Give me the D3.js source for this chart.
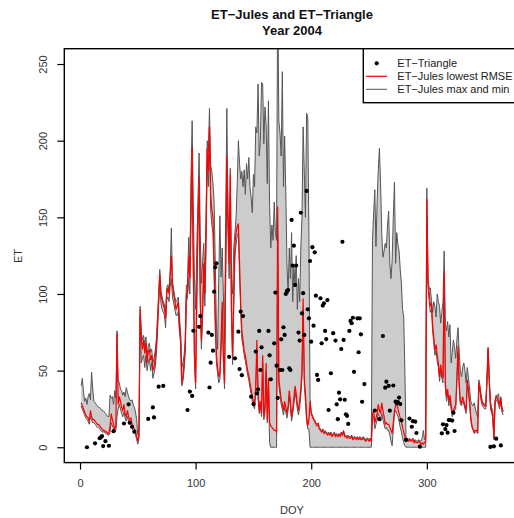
<!DOCTYPE html>
<html lang="en">
<head>
<meta charset="utf-8">
<title>ET-Jules and ET-Triangle 2004</title>
<script src="https://d3js.org/d3.v7.min.js"></script>
<style>
  body { margin: 0; background: #fff; }
  svg text { font-family: "Liberation Sans", Arial, Helvetica, sans-serif; }
</style>
</head>
<body>
<div id="chart"></div>
<script>
// ET-Jules lowest RMSE, DOY 1..366
var etBest = [
  29,27,25,23,21,20,19,17,24,20,  18,18,17,16,15,15,14,13,12,11,
  11,10,10,9,9,14,22,18,15,12,    14,74,28,33,30,26,24,28,22,20,
  24,20,18,19,15,13,12,10,7,4,    8,90,72,64,70,61,68,55,62,64,
  57,60,50,52,58,66,80,96,113,100, 96,93,91,84,100,104,100,112,125,105,
  100,96,90,92,95,80,72,42,46,55, 66,100,102,125,110,160,196,120,60,42,
  100,150,176,100,70,90,120,100,140,195, 180,209,165,155,150,120,85,60,52,46,
  48,70,95,60,42,120,190,150,120,178, 90,59,100,133,140,144,146,120,94,76,
  70,63,60,55,50,47,42,38,33,30,  27,40,70,35,24,30,22,60,20,26,
  55,18,45,16,14,13,12,11,11,10,  157,44,38,31,28,24,30,26,22,27,
  37,30,20,25,32,40,35,28,24,30,  38,50,97,45,35,20,14,18,30,22,
  20,18,17,15,14,15,12,11,10,11,  9,10,9,8,9,8,9,7,8,9,
  7,8,7,8,7,9,8,10,7,7,           6,7,6,6,7,5,6,6,5,6,
  5,6,5,5,6,5,4,5,5,4,            5,4,22,24,16,19,22,28,24,22,
  29,24,20,15,16,15,15,13,11,9,   16,24,27,29,25,22,19,17,13,10,
  7,4,5,4,5,4,4,5,3,4,            3,3,4,3,2,3,2,3,4,162,
  108,101,92,94,80,72,63,67,60,55, 46,54,48,45,115,42,33,38,30,34,
  28,22,24,26,28,45,66,42,30,29,  33,30,27,24,44,37,30,20,14,12,
  10,11,11,10,42,38,32,29,28,27,  27,44,65,44,28,24,22,6,30,33,
  32,30,27,32,25,23
];

// ET-Jules max over runs
var etMax = [
  40,45,36,30,32,28,33,35,31,49,  38,30,29,28,27,26,26,25,24,24,
  23,22,21,20,20,34,32,33,28,37,  32,76,44,42,38,37,34,36,33,39,
  36,33,31,30,31,28,26,23,18,8,   12,92,75,70,73,66,72,60,66,68,
  62,64,55,58,63,70,85,100,116,102, 98,95,93,88,104,106,103,115,143,108,
  103,98,95,96,98,85,75,52,55,60, 70,106,105,137,115,175,213,155,110,90,
  129,160,192,140,107,120,133,110,150,200, 193,221,184,180,172,160,120,80,64,110,
  151,111,130,100,68,150,221,152,135,182, 110,100,130,140,150,172,200,185,175,180,
  170,181,165,185,175,189,170,163,153,178, 170,209,205,237,190,200,238,237,198,222,
  210,172,226,157,130,145,135,160,140,135, 300,213,205,190,245,170,203,166,120,100,
  130,110,140,95,118,105,125,90,110,95, 130,150,209,180,150,218,215,140,31,23,
  21,19,18,16,15,16,13,12,11,12,  10,11,10,9,10,9,10,8,9,10,
  8,9,8,9,8,10,9,11,8,8,          7,8,7,7,8,6,7,7,6,7,
  6,7,6,6,7,6,5,6,6,5,            6,5,135,153,168,131,160,181,195,172,
  140,124,128,133,130,145,154,120,110,122, 150,173,120,140,132,128,116,107,90,85,
  50,6,6,5,6,5,5,6,4,5,           4,4,5,4,4,6,11,5,6,169,
  112,103,104,96,88,95,92,85,100,95, 92,81,88,95,128,80,76,82,72,80,
  55,62,70,65,58,70,78,62,50,46,  52,55,50,42,52,45,38,30,28,27,
  29,25,22,20,44,40,34,30,29,28,  28,44,65,46,30,26,24,6,30,34,
  33,35,28,33,26,24
];

// ET-Jules min over runs
var etMin = [
  27,25,23,21,19,18,17,15,20,18,  16,16,15,14,13,13,12,11,10,10,
  10,9,9,8,8,10,16,14,12,10,      11,20,25,28,25,22,20,23,19,17,
  20,17,15,16,12,11,10,8,5,2,     6,86,55,58,60,52,60,50,55,58,
  50,55,45,48,52,60,75,92,108,94, 90,88,86,78,96,98,95,105,110,98,
  94,90,86,86,88,75,68,40,43,50,  62,95,98,110,100,145,180,110,55,38,
  92,140,165,92,64,84,110,92,130,185, 170,198,155,145,140,110,78,55,48,42,
  44,62,88,55,38,110,175,140,110,165, 84,54,92,125,132,138,140,112,88,70,
  66,60,56,52,47,44,39,35,30,27,  25,36,64,32,22,27,20,55,18,23,
  50,16,40,3,0,0,0,0,0,0,         140,40,34,28,25,21,26,23,19,24,
  33,26,17,22,28,36,31,25,21,26,  34,45,90,40,30,17,12,12,0,0,
  0,0,0,0,0,0,0,0,0,0,            0,0,0,0,0,0,0,0,0,0,
  0,0,0,0,0,0,0,0,0,0,            0,0,0,0,0,0,0,0,0,0,
  0,0,0,0,0,0,0,0,0,0,            0,0,20,20,12,15,18,22,20,17,
  22,18,15,12,13,11,11,8,4,1,     12,22,24,22,20,17,13,10,6,3,
  1,0,0,0,0,0,0,0,0,0,            0,0,0,0,0,0,0,0,0,150,
  104,96,88,90,76,68,60,63,56,52, 43,50,45,42,108,39,30,35,27,31,
  25,20,22,24,25,42,62,39,28,27,  30,28,25,22,42,35,28,18,13,11,
  9,10,10,9,40,36,30,27,26,25,    25,42,63,42,26,22,20,5,28,31,
  30,28,25,30,23,21
];

// ET-Triangle observations
var triDay = [6,13,17,18,19,20,22,25,29,38,42,43,45,47,59,63,64,68,72,93,95,97,98,103,104,
  111,112,113,114,115,116,117,118,129,134,137,138,139,140,141,148,150,152,153,154,155,156,157,
  163,164,165,168,169,170,171,173,174,175,176,177,178,179,180,181,182,183,184,185,186,187,189,
  190,191,192,193,194,196,197,198,199,200,201,202,203,204,205,206,208,209,210,211,212,213,214,
  215,217,219,221,222,223,224,225,226,227,228,229,230,231,232,233,234,235,236,237,240,241,242,
  243,244,246,255,259,262,264,265,267,268,271,273,274,275,276,277,278,282,285,287,288,290,291,
  294,313,314,316,317,318,319,320,322,323,324,355,358,360,364];
var triET = [0,2.6,5.9,6.5,7.3,0.8,4,1,10.5,15.5,28,16,13.4,10.2,18.5,26,19.5,39.5,40,24.3,36.3,33.5,76,78.6,85.6,
  74.8,39,55.2,73.3,63,101.5,117.4,120,59,58,75.4,51,88.5,47,85.6,33,28.2,62.4,35.2,37.8,75.9,50.4,65.2,
  75.9,60,44.3,67.8,100.9,53.2,32.2,50.4,70.4,50.4,78.3,73.3,100,102,102.6,51.5,50.4,148.3,118.5,131.5,105.9,118.5,74.8,
  69.6,153,87.4,100.5,73.3,167.2,90,84.1,121.5,68.9,130.5,79.3,127.2,98.9,47.2,43.9,97.2,67.8,92.4,93.9,75.9,70.6,96,
  24.3,48.3,74.4,69.6,28,18.3,35.6,31.3,64.1,134,70,31,21.5,20.5,15.2,75.9,82.4,80.9,84.5,49.2,84.1,62,84.1,
  73.7,29.7,41.2,24,18.3,72.6,38.9,42.8,40,23.9,40.3,29.8,28.7,29.4,32.4,28.2,17.6,4.8,18.7,13.4,17,16.7,9.3,
  0.4,9.1,15,11.9,14.5,9.5,17.8,17.8,17.4,22.6,10.6,0.2,0.6,5.6,1.2];

var xTicks = [0, 100, 200, 300];
var yTicks = [0, 50, 100, 150, 200, 250];
var legendLabels = ["ET\u2212Triangle", "ET\u2212Jules lowest RMSE", "ET\u2212Jules max and min"];

var W = 514, H = 518;
var plotL = 64.3, plotR = 520, plotT = 48.7, plotB = 462.6;

var x = d3.scaleLinear().domain([-13.6, 380.6]).range([plotL, plotR]);
var y = d3.scaleLinear().domain([-10, 260]).range([plotB, plotT]);

var svg = d3.select("#chart").append("svg")
  .attr("width", W)
  .attr("height", H);

svg.append("defs").append("clipPath").attr("id", "plotclip")
  .append("rect")
  .attr("x", plotL).attr("y", plotT)
  .attr("width", plotR - plotL).attr("height", plotB - plotT);

var rows = etBest.map(function (v, i) {
  return { doy: i + 1, best: v, hi: etMax[i], lo: etMin[i] };
});
var pts = triDay.map(function (d, i) { return { doy: d, et: triET[i] }; });

var plot = svg.append("g").attr("clip-path", "url(#plotclip)");

// gray band between min and max
plot.append("path").datum(rows)
  .attr("fill", "#cccccc")
  .attr("d", d3.area().x(d => x(d.doy)).y0(d => y(d.lo)).y1(d => y(d.hi)));

var lineHi = d3.line().x(d => x(d.doy)).y(d => y(d.hi));
var lineLo = d3.line().x(d => x(d.doy)).y(d => y(d.lo));
var lineBest = d3.line().x(d => x(d.doy)).y(d => y(d.best));

plot.append("path").datum(rows).attr("d", lineHi)
  .attr("fill", "none").attr("stroke", "#555").attr("stroke-width", 1);
plot.append("path").datum(rows).attr("d", lineLo)
  .attr("fill", "none").attr("stroke", "#555").attr("stroke-width", 1);
plot.append("path").datum(rows).attr("d", lineBest)
  .attr("fill", "none").attr("stroke", "#ff0000").attr("stroke-width", 1.2);

plot.selectAll("circle").data(pts).enter()
  .append("circle")
  .attr("cx", d => x(d.doy))
  .attr("cy", d => y(d.et))
  .attr("r", 2.1)
  .attr("fill", "#000");

// axes
var gx = svg.append("g").attr("transform", "translate(0," + plotB + ")")
  .call(d3.axisBottom(x).tickValues(xTicks).tickSize(7).tickPadding(9.6).tickFormat(d3.format("d")));
var gy = svg.append("g").attr("transform", "translate(" + plotL + ",0)")
  .call(d3.axisLeft(y).tickValues(yTicks).tickSize(7).tickFormat(d3.format("d")));

[gx, gy].forEach(function (g) {
  g.select(".domain").remove();
  g.selectAll(".tick line").attr("stroke", "#000").attr("stroke-width", 1.2);
  g.selectAll(".tick text").attr("fill", "#333").style("font-size", "11px");
});
gy.selectAll(".tick text")
  .attr("transform", "rotate(-90)")
  .attr("x", 0).attr("y", -17).attr("dy", 0)
  .attr("text-anchor", "middle");

svg.append("rect")
  .attr("x", plotL).attr("y", plotT)
  .attr("width", plotR - plotL).attr("height", plotB - plotT)
  .attr("fill", "none").attr("stroke", "#000").attr("stroke-width", 1.4);

// titles
svg.append("text").attr("x", 292).attr("y", 18.5).attr("text-anchor", "middle")
  .style("font-size", "13px").style("font-weight", "bold").attr("fill", "#111")
  .text("ET\u2212Jules and ET\u2212Triangle");
svg.append("text").attr("x", 292).attr("y", 35).attr("text-anchor", "middle")
  .style("font-size", "13px").style("font-weight", "bold").attr("fill", "#111")
  .text("Year 2004");
svg.append("text").attr("x", 292).attr("y", 514).attr("text-anchor", "middle")
  .style("font-size", "11px").attr("fill", "#333").text("DOY");
svg.append("text").attr("transform", "translate(22,256) rotate(-90)")
  .attr("text-anchor", "middle").style("font-size", "11px").attr("fill", "#333").text("ET");

// legend
var lg = svg.append("g");
lg.append("rect").attr("x", 363.3).attr("y", plotT).attr("width", 170).attr("height", 54)
  .attr("fill", "#fff").attr("stroke", "#000").attr("stroke-width", 1.4);
var rowY = [63.3, 76.3, 89.3];
lg.append("circle").attr("cx", 376.7).attr("cy", rowY[0]).attr("r", 2.1).attr("fill", "#000");
lg.append("line").attr("x1", 366).attr("x2", 387).attr("y1", rowY[1]).attr("y2", rowY[1])
  .attr("stroke", "#ff0000").attr("stroke-width", 1.2);
lg.append("line").attr("x1", 366).attr("x2", 387).attr("y1", rowY[2]).attr("y2", rowY[2])
  .attr("stroke", "#555").attr("stroke-width", 1);
lg.selectAll("text.lab").data(legendLabels).enter()
  .append("text").attr("class", "lab")
  .attr("x", 397.3).attr("y", (d, i) => rowY[i] + 4)
  .style("font-size", "11px").attr("fill", "#222")
  .text(d => d);
</script>
</body>
</html>
